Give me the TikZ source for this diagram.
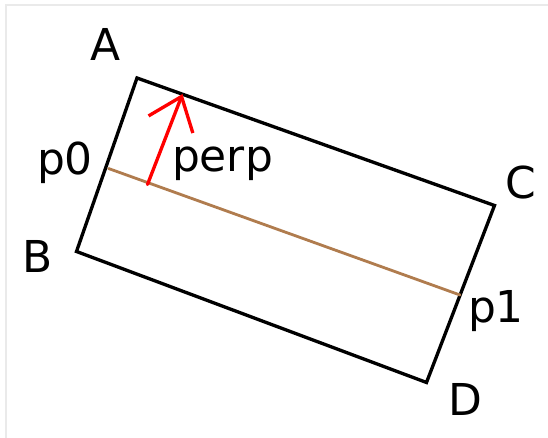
\documentclass[tikz,border=0pt]{standalone}
\usepackage{fontspec}
\setmainfont{DejaVu Sans}
\usetikzlibrary{arrows.meta}
\definecolor{segbrown}{RGB}{176,124,78}
\definecolor{framegray}{RGB}{234,234,234}
\begin{document}
\begin{tikzpicture}[font=\fontsize{25}{30}\selectfont, line join=miter, line cap=round,
    >={Straight Barb[length=6mm, width=9.5mm, line width=1.9pt]},
    lbl/.style={inner sep=0pt}]
			\useasboundingbox (0,0) rectangle (10.96,8.76);
			\draw[framegray, line width=1.5pt, line cap=butt] (0.12,0) -- (0.12,8.66) -- (10.96,8.66);
			
			\coordinate (A) at (2.74,7.20);
			\coordinate (B) at (1.53,3.73);
			\coordinate (C) at (9.89,4.65);
			\coordinate (D) at (8.53,1.11);
			\coordinate (p0) at (2.17,5.39);
			\coordinate (p1) at (9.20,2.86);
			\coordinate (foot) at (2.95,5.07);
			\coordinate (tip) at (3.65,6.88);
			
			\draw[line width=1.9pt] (A) -- (C) -- (D) -- (B) -- cycle;
			\draw[segbrown, line width=1.6pt] (p0) -- (p1);
			\draw[red, line width=1.9pt, ->] (foot) -- (tip);
			
			\node[lbl] (lblA) at (2.11,7.87) {A};
			\node[lbl] (lblB) at (0.75,3.62) {B};
			\node[lbl] (lblC) at (10.41,5.10) {C};
			\node[lbl] (lblD) at (9.30,0.78) {D};
			\node[lbl, anchor=base] (lblp0) at (1.30,5.27) {p0};
			\node[lbl, anchor=base] (lblp1) at (9.92,2.30) {p1};
			\node[lbl, anchor=base] (lblperp) at (4.45,5.33) {perp};
		\end{tikzpicture}
\end{document}
